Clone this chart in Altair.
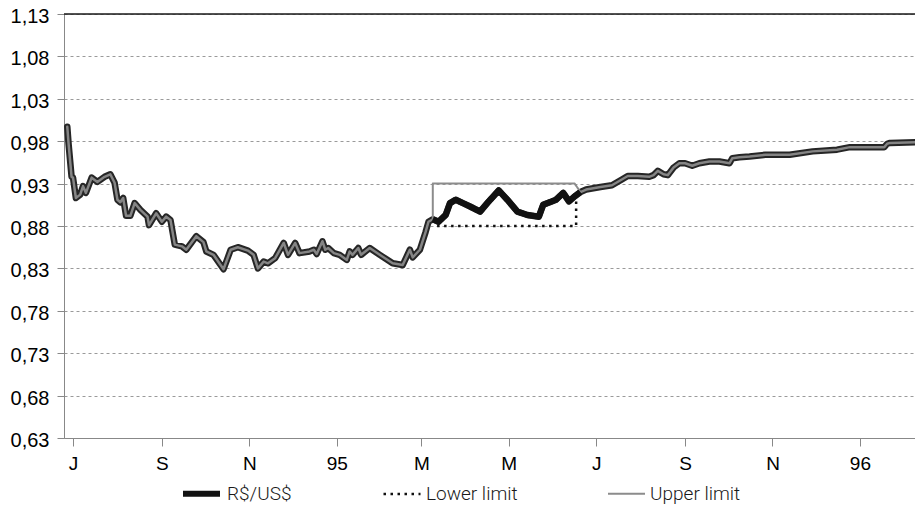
import altair as alt
import pandas as pd

# ---------------- data ----------------
RATE_DATES = [
    "1994-06-27", "1994-06-28", "1994-06-30", "1994-07-01", "1994-07-03", "1994-07-06",
    "1994-07-08", "1994-07-10", "1994-07-14", "1994-07-18", "1994-07-23", "1994-07-27",
    "1994-07-30", "1994-08-01", "1994-08-03", "1994-08-05", "1994-08-07", "1994-08-10",
    "1994-08-13", "1994-08-17", "1994-08-22", "1994-08-23", "1994-08-28", "1994-09-01",
    "1994-09-04", "1994-09-07", "1994-09-10", "1994-09-15", "1994-09-18", "1994-09-25",
    "1994-09-30", "1994-10-02", "1994-10-07", "1994-10-14", "1994-10-19", "1994-10-24",
    "1994-10-31", "1994-11-04", "1994-11-07", "1994-11-11", "1994-11-14", "1994-11-19",
    "1994-11-25", "1994-11-28", "1994-12-03", "1994-12-06", "1994-12-13", "1994-12-16",
    "1994-12-18", "1994-12-22", "1994-12-24", "1994-12-26", "1994-12-30", "1995-01-03",
    "1995-01-08", "1995-01-10", "1995-01-12", "1995-01-16", "1995-01-18", "1995-01-24",
    "1995-01-31", "1995-02-09", "1995-02-16", "1995-02-21", "1995-02-23", "1995-02-28",
    "1995-03-04", "1995-03-06", "1995-03-09", "1995-03-13", "1995-03-18", "1995-03-21",
    "1995-03-25", "1995-03-30", "1995-04-04", "1995-04-11", "1995-04-16", "1995-04-24",
    "1995-04-30", "1995-05-07", "1995-05-14", "1995-05-22", "1995-05-25", "1995-05-31",
    "1995-06-03", "1995-06-08", "1995-06-12", "1995-06-16", "1995-06-20", "1995-06-24",
    "1995-07-04", "1995-07-12", "1995-07-18", "1995-07-23", "1995-07-30", "1995-08-07",
    "1995-08-10", "1995-08-13", "1995-08-17", "1995-08-20", "1995-08-24", "1995-08-28",
    "1995-09-01", "1995-09-06", "1995-09-11", "1995-09-18", "1995-09-25", "1995-10-02",
    "1995-10-04", "1995-10-09", "1995-10-16", "1995-10-27", "1995-11-13", "1995-11-29",
    "1995-12-16", "1995-12-25", "1996-01-05", "1996-01-18", "1996-01-20", "1996-01-22",
    "1996-02-11", "1996-02-14",
]
RATE_VALUES = [
    0.997, 0.975, 0.938, 0.937, 0.913, 0.917,
    0.927, 0.919, 0.937, 0.932, 0.938, 0.941,
    0.931, 0.911, 0.908, 0.913, 0.892, 0.892,
    0.907, 0.899, 0.891, 0.881, 0.895, 0.885,
    0.891, 0.887, 0.858, 0.856, 0.852, 0.868,
    0.861, 0.850, 0.846, 0.829, 0.852, 0.855,
    0.851, 0.846, 0.830, 0.838, 0.836, 0.842,
    0.860, 0.846, 0.860, 0.848, 0.850, 0.852,
    0.847, 0.862, 0.852, 0.854, 0.848, 0.846,
    0.840, 0.850, 0.846, 0.854, 0.846, 0.854,
    0.846, 0.836, 0.834, 0.852, 0.843, 0.852,
    0.873, 0.885, 0.888, 0.885, 0.893, 0.907,
    0.911, 0.907, 0.903, 0.897, 0.907, 0.922,
    0.911, 0.897, 0.893, 0.891, 0.905, 0.909,
    0.911, 0.919, 0.909, 0.915, 0.920, 0.923,
    0.926, 0.928, 0.934, 0.939, 0.939, 0.938,
    0.940, 0.945, 0.941, 0.940, 0.949, 0.954,
    0.954, 0.951, 0.954, 0.956, 0.956, 0.954,
    0.960, 0.961, 0.962, 0.964, 0.964, 0.968,
    0.970, 0.973, 0.973, 0.973, 0.977, 0.978,
    0.979, 0.986,
]

BAND_START = "1995-03-09"
BAND_END = "1995-06-20"

LOWER_DATES = ["1995-03-12", "1995-06-17", "1995-06-17"]
LOWER_VALUES = [0.88, 0.88, 0.913]

UPPER_DATES = ["1995-03-09", "1995-03-09", "1995-06-16", "1995-06-20"]
UPPER_VALUES = [0.888, 0.93, 0.93, 0.920]

SERIES = ["R$/US$", "Lower limit", "Upper limit"]

Y_TICKS = [0.63, 0.68, 0.73, 0.78, 0.83, 0.88, 0.93, 0.98, 1.03, 1.08, 1.13]

TICK_MONTHS = ["1994-07", "1994-09", "1994-11", "1995-01", "1995-03",
               "1995-05", "1995-07", "1995-09", "1995-11", "1996-01"]
TICK_LABELS = ["J", "S", "N", "95", "M", "M", "J", "S", "N", "96"]

# ---------------- tables ----------------
rate = pd.DataFrame({"date": pd.to_datetime(RATE_DATES), "value": RATE_VALUES})
rate["idx"] = range(len(rate))

seg = rate[(rate["date"] >= pd.Timestamp(BAND_START)) & (rate["date"] <= pd.Timestamp(BAND_END))].copy()
seg["series"] = SERIES[0]

low = pd.DataFrame({"date": pd.to_datetime(LOWER_DATES), "value": LOWER_VALUES})
low["idx"] = range(len(low))
low["series"] = SERIES[1]

up = pd.DataFrame({"date": pd.to_datetime(UPPER_DATES), "value": UPPER_VALUES})
up["idx"] = range(len(up))
up["series"] = SERIES[2]

band = pd.concat([up, seg, low], ignore_index=True)

top_rule = pd.DataFrame({"value": [Y_TICKS[-1]]})

# ---------------- encodings ----------------
label_map = "{" + ",".join(f"'{m}':'{l}'" for m, l in zip(TICK_MONTHS, TICK_LABELS)) + "}"
tick_values = [alt.DateTime(year=int(m[:4]), month=int(m[5:7]), date=1) for m in TICK_MONTHS]

x_enc = alt.X(
    "date:T",
    title=None,
    scale=alt.Scale(domain=[alt.DateTime(year=1994, month=6, date=24, hours=17),
                            alt.DateTime(year=1996, month=2, date=8, hours=10)]),
    axis=alt.Axis(values=tick_values, grid=False, tickSize=8, labelPadding=8,
                  labelExpr=label_map + "[timeFormat(datum.value, '%Y-%m')]",
                  labelFontSize=19),
)
y_enc = alt.Y(
    "value:Q",
    title=None,
    scale=alt.Scale(domain=[Y_TICKS[0], Y_TICKS[-1]], nice=False, zero=False),
    axis=alt.Axis(values=Y_TICKS, grid=True, gridDash=[3, 3], gridColor="#9a9a9a",
                  tickSize=7, labelPadding=8, labelFontSize=20, labelOffset=2.5,
                  labelExpr="replace(format(datum.value, '.2f'), '.', ',')"),
)

leg = alt.Legend(
    title=None, orient="none", legendX=116, legendY=458, direction="horizontal",
    symbolType="stroke", symbolSize=1369, columnPadding=86, labelOffset=4,
    labelFontSize=19, labelFont="Roboto", labelFontWeight=300, labelColor="#1a1a1a",
)

outline = alt.Chart(rate).mark_line(color="#262626", strokeWidth=6.5, strokeJoin="round",
                                    strokeCap="round", clip=True).encode(
    x=x_enc, y=y_enc, order="idx:Q")
inner = alt.Chart(rate).mark_line(color="#858585", strokeWidth=2.5, strokeJoin="round",
                                  strokeCap="round", clip=True).encode(
    x=x_enc, y=y_enc, order="idx:Q")

band_layer = alt.Chart(band).mark_line(strokeJoin="round", clip=True).encode(
    x=x_enc, y=y_enc, order="idx:Q",
    color=alt.Color("series:N", scale=alt.Scale(domain=SERIES, range=["#111111", "#111111", "#8c8c8c"]),
                    legend=leg),
    strokeDash=alt.StrokeDash("series:N", scale=alt.Scale(domain=SERIES, range=[[1, 0], [2.5, 4.5], [1, 0]]),
                              legend=leg),
    strokeWidth=alt.StrokeWidth("series:N", scale=alt.Scale(type="ordinal", domain=SERIES, range=[6, 2.5, 2]),
                                legend=leg),
)

border = alt.Chart(top_rule).mark_rule(color="#1a1a1a", strokeWidth=1.5).encode(y=alt.Y("value:Q"))

chart = alt.layer(outline, inner, band_layer, border).properties(
    width=851, height=424,
    autosize=alt.AutoSizeParams(type="none"),
    padding={"left": 56, "top": 6, "right": 0, "bottom": 66},
).configure_view(stroke=None).configure_axis(
    labelFont="Roboto", labelFontWeight=300, labelColor="#1a1a1a",
    domainColor="#1a1a1a", domainWidth=1.5, tickColor="#1a1a1a", tickWidth=1.5,
).configure(background="white")

chart.save("out.html", embed_options={"renderer": "svg", "actions": False})
